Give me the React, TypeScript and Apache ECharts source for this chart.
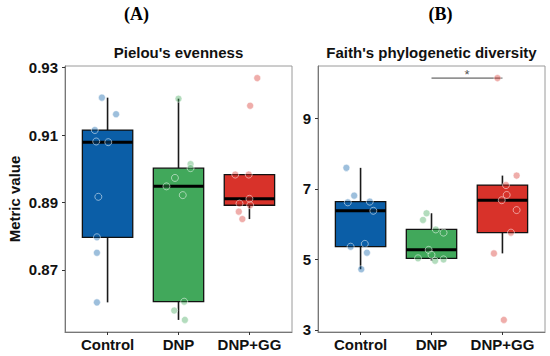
import React, { useEffect, useRef } from "react";
import * as echarts from "echarts";

// ---------- data ----------
const categories = ["Control", "DNP", "DNP+GG"];
const boxColors = ["#0b5ea7", "#41a85b", "#d8322a"];
const pointColors = ["rgba(11,94,167,0.5)", "rgba(65,168,91,0.5)", "rgba(216,50,42,0.5)"];

// Panel A: Pielou's evenness
const pielouControl = [0.9211, 0.9162, 0.9115, 0.9081, 0.9079, 0.8917, 0.8797, 0.8751, 0.8604];
const pielouDNP = [0.9208, 0.9014, 0.9002, 0.8973, 0.8948, 0.8922, 0.8606, 0.858, 0.8552];
const pielouDNPGG = [0.9269, 0.9187, 0.8983, 0.8983, 0.8911, 0.8897, 0.8892, 0.8873, 0.8851];
const pielouJitterControl = [-0.08, 0.12, -0.18, -0.16, 0.01, -0.13, -0.15, -0.15, -0.15];
const pielouJitterDNP = [0.0, 0.17, 0.17, -0.05, -0.17, 0.06, 0.08, -0.06, 0.09];
const pielouJitterDNPGG = [0.11, 0.01, -0.2, -0.01, 0.0, -0.14, 0.01, -0.15, -0.1];
const pielouTicks = [0.87, 0.89, 0.91, 0.93];

// Panel B: Faith's phylogenetic diversity
const faithControl = [7.6, 6.81, 6.62, 6.64, 6.38, 5.36, 5.44, 5.19, 4.72];
const faithDNP = [6.31, 6.12, 5.85, 5.76, 5.27, 5.13, 5.03, 4.96, 5.0];
const faithDNPGG = [10.15, 7.38, 7.11, 6.83, 6.68, 6.4, 5.76, 5.17, 3.28];
const faithJitterControl = [-0.2, -0.09, -0.18, 0.13, 0.18, -0.14, 0.06, 0.09, 0.01];
const faithJitterDNP = [-0.07, -0.12, 0.06, 0.17, -0.04, 0.0, -0.19, 0.05, 0.17];
const faithJitterDNPGG = [-0.07, 0.2, 0.05, 0.06, -0.01, 0.2, 0.12, -0.12, 0.02];
const faithTicks = [3, 5, 7, 9];
const faithSignificanceY = 10.15;
const faithSignificancePair = [2, 3];
const significanceLabel = "*";

const panelTitles = ["Pielou's evenness", "Faith's phylogenetic diversity"];
const panelTags = ["(A)", "(B)"];
const yAxisName = "Metric value";

// ---------- helpers ----------
function quantile(sorted: number[], p: number) {
  const h = (sorted.length - 1) * p;
  const lo = Math.floor(h);
  const hi = Math.ceil(h);
  return sorted[lo] + (sorted[hi] - sorted[lo]) * (h - lo);
}
function boxStats(values: number[]) {
  const s = [...values].sort((a, b) => a - b);
  const q1 = quantile(s, 0.25);
  const med = quantile(s, 0.5);
  const q3 = quantile(s, 0.75);
  const iqr = q3 - q1;
  const lo = Math.min(...s.filter((v) => v >= q1 - 1.5 * iqr));
  const hi = Math.max(...s.filter((v) => v <= q3 + 1.5 * iqr));
  return [lo, q1, med, q3, hi];
}
function expandedRange(groups: number[][]) {
  const all = groups.flat();
  const mn = Math.min(...all);
  const mx = Math.max(...all);
  const pad = (mx - mn) * 0.05;
  return [mn - pad, mx + pad];
}

const BOX_WIDTH = 0.71;
const FONT = "'Liberation Sans', Arial, sans-serif";

export default function App() {
  const ref = useRef<HTMLDivElement>(null);

  useEffect(() => {
    if (!ref.current) return;
    const chart = echarts.init(ref.current, null, { renderer: "svg" });

    const panels = [
      {
        groups: [pielouControl, pielouDNP, pielouDNPGG],
        jitters: [pielouJitterControl, pielouJitterDNP, pielouJitterDNPGG],
        ticks: pielouTicks,
        fmt: (v: number) => v.toFixed(2),
      },
      {
        groups: [faithControl, faithDNP, faithDNPGG],
        jitters: [faithJitterControl, faithJitterDNP, faithJitterDNPGG],
        ticks: faithTicks,
        fmt: (v: number) => String(Math.round(v)),
      },
    ];

    const grids = [
      { left: 65, top: 66, width: 227, height: 266 },
      { left: 318, top: 66, width: 227, height: 266 },
    ].map((g) => ({
      ...g,
      show: true,
      borderColor: "#9a9a9a",
      borderWidth: 1,
      backgroundColor: "#fff",
    }));

    const xAxes = panels.map((_, i) => ({
      type: "value",
      gridIndex: i,
      min: 0.4,
      max: 3.6,
      splitLine: { show: false },
      axisLine: { show: true, lineStyle: { color: "#777", width: 1 } },
      axisTick: {
        show: true,
        length: 3,
        customValues: [1, 2, 3],
        lineStyle: { color: "#333" },
      },
      axisLabel: {
        customValues: [1, 2, 3],
        formatter: (v: number) => categories[Math.round(v) - 1] ?? "",
        fontFamily: FONT,
        fontWeight: "bold",
        fontSize: 15,
        color: "#111",
        margin: 5,
      },
    }));

    const yAxes = panels.map((p, i) => {
      const [mn, mx] = expandedRange(p.groups);
      return {
        type: "value",
        gridIndex: i,
        min: mn,
        max: mx,
        splitLine: { show: false },
        axisLine: { show: true, lineStyle: { color: "#777", width: 1 } },
        axisTick: {
          show: true,
          length: 3,
          customValues: p.ticks,
          lineStyle: { color: "#333" },
        },
        axisLabel: {
          customValues: p.ticks,
          formatter: (v: number) => p.fmt(v),
          fontFamily: FONT,
          fontWeight: "bold",
          fontSize: 15,
          color: "#111",
          margin: 7,
        },
      };
    });

    const series: any[] = [];
    panels.forEach((p, pi) => {
      series.push({
        type: "custom",
        xAxisIndex: pi,
        yAxisIndex: pi,
        z: 2,
        data: p.groups.map((g, gi) => [gi + 1, ...boxStats(g)]),
        encode: { x: 0, y: [1, 2, 3, 4, 5] },
        renderItem: (params: any, api: any) => {
          const x = api.value(0);
          const lo = api.value(1);
          const q1 = api.value(2);
          const med = api.value(3);
          const q3 = api.value(4);
          const hi = api.value(5);
          const hw = BOX_WIDTH / 2;
          const tl = api.coord([x - hw, q3]);
          const br = api.coord([x + hw, q1]);
          const top = api.coord([x, hi]);
          const q3c = api.coord([x, q3]);
          const q1c = api.coord([x, q1]);
          const bot = api.coord([x, lo]);
          const ml = api.coord([x - hw, med]);
          const mr = api.coord([x + hw, med]);
          return {
            type: "group",
            children: [
              {
                type: "line",
                shape: { x1: top[0], y1: top[1], x2: q3c[0], y2: q3c[1] },
                style: { stroke: "#1a1a1a", lineWidth: 1.6 },
              },
              {
                type: "line",
                shape: { x1: bot[0], y1: bot[1], x2: q1c[0], y2: q1c[1] },
                style: { stroke: "#1a1a1a", lineWidth: 1.6 },
              },
              {
                type: "rect",
                shape: { x: tl[0], y: tl[1], width: br[0] - tl[0], height: br[1] - tl[1] },
                style: { fill: boxColors[params.dataIndex], stroke: "#111", lineWidth: 1.3 },
              },
              {
                type: "line",
                shape: { x1: ml[0], y1: ml[1], x2: mr[0], y2: mr[1] },
                style: { stroke: "#000", lineWidth: 3 },
              },
            ],
          };
        },
      });
      p.groups.forEach((g, gi) => {
        series.push({
          type: "scatter",
          xAxisIndex: pi,
          yAxisIndex: pi,
          z: 3,
          symbol: "circle",
          symbolSize: 7,
          itemStyle: {
            color: pointColors[gi],
            borderColor: "rgba(255,255,255,0.65)",
            borderWidth: 1,
          },
          data: g.map((v, k) => [gi + 1 + p.jitters[gi][k], v]),
        });
      });
    });

    series.push({
      type: "line",
      xAxisIndex: 1,
      yAxisIndex: 1,
      z: 2,
      symbol: "none",
      lineStyle: { color: "#444", width: 1 },
      data: faithSignificancePair.map((x) => [x, faithSignificanceY]),
    });
    series.push({
      type: "scatter",
      xAxisIndex: 1,
      yAxisIndex: 1,
      z: 4,
      symbolSize: 0,
      label: {
        show: true,
        formatter: significanceLabel,
        position: "top",
        distance: -3,
        fontSize: 13,
        color: "#222",
        fontFamily: FONT,
      },
      data: [[(faithSignificancePair[0] + faithSignificancePair[1]) / 2, faithSignificanceY]],
    });

    const graphic: any[] = [
      {
        type: "text",
        x: 136.5,
        y: 14,
        style: {
          text: panelTags[0],
          font: "bold 18px 'Liberation Serif', 'Times New Roman', serif",
          fill: "#000",
          textAlign: "center",
          textVerticalAlign: "middle",
        },
      },
      {
        type: "text",
        x: 440.5,
        y: 14,
        style: {
          text: panelTags[1],
          font: "bold 18px 'Liberation Serif', 'Times New Roman', serif",
          fill: "#000",
          textAlign: "center",
          textVerticalAlign: "middle",
        },
      },
      {
        type: "text",
        x: 178.5,
        y: 52,
        style: {
          text: panelTitles[0],
          font: `bold 15px ${FONT}`,
          fill: "#111",
          textAlign: "center",
          textVerticalAlign: "middle",
        },
      },
      {
        type: "text",
        x: 431.5,
        y: 52,
        style: {
          text: panelTitles[1],
          font: `bold 15px ${FONT}`,
          fill: "#111",
          textAlign: "center",
          textVerticalAlign: "middle",
        },
      },
      {
        type: "text",
        x: 14,
        y: 199,
        rotation: Math.PI / 2,
        style: {
          text: yAxisName,
          font: `bold 15px ${FONT}`,
          fill: "#111",
          textAlign: "center",
          textVerticalAlign: "middle",
        },
      },
    ];

    chart.setOption({
      animation: false,
      backgroundColor: "#fff",
      grid: grids,
      xAxis: xAxes,
      yAxis: yAxes,
      series,
      graphic,
    });

    return () => chart.dispose();
  }, []);

  return (
    <div
      ref={ref}
      style={{ position: "fixed", left: 0, top: 0, width: 550, height: 356, background: "#fff" }}
    />
  );
}
